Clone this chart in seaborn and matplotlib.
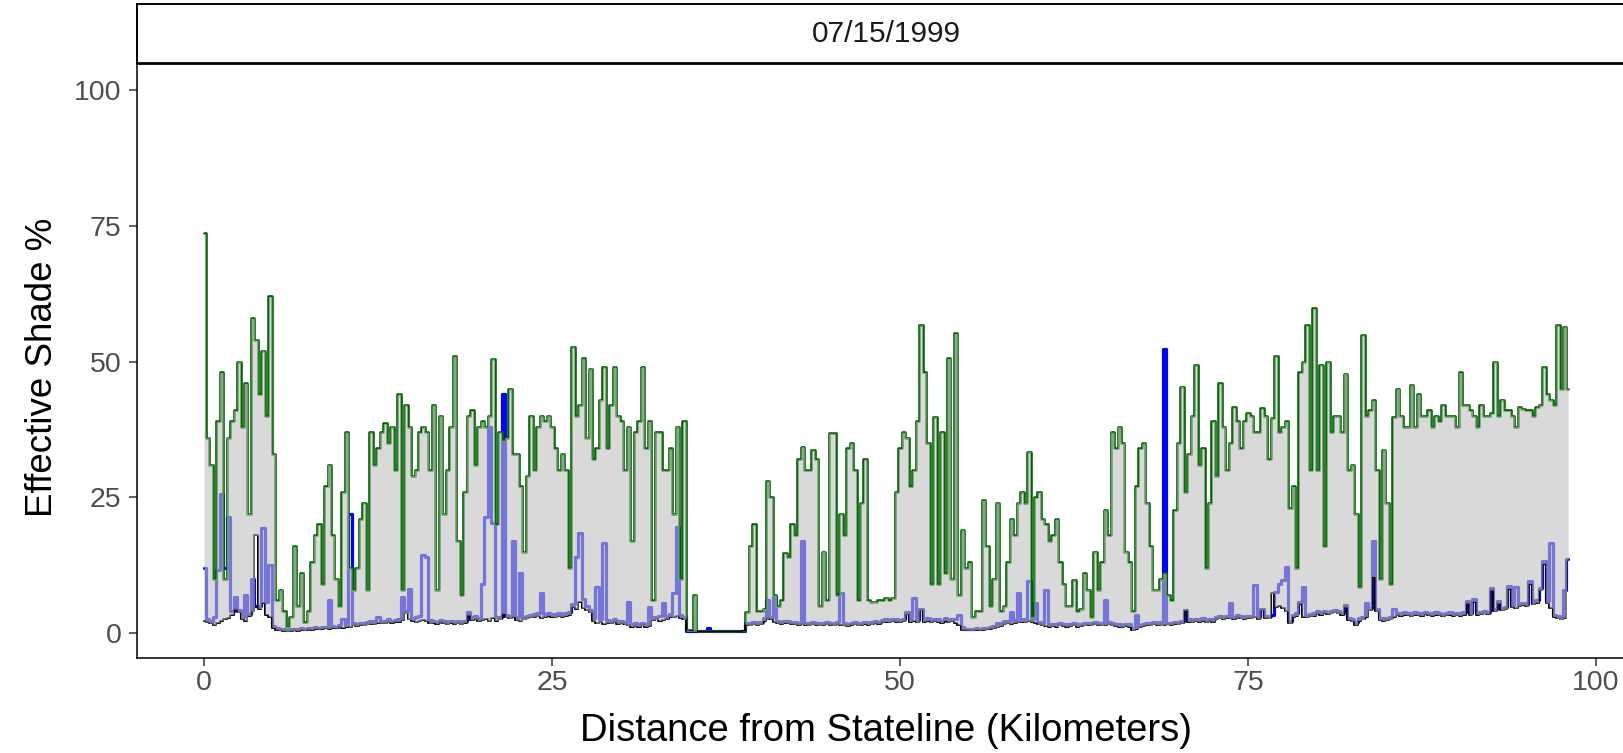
import numpy as np
import pandas as pd
import matplotlib
matplotlib.use("Agg")
import matplotlib.pyplot as plt
import seaborn as sns

# distancia ao longo do rio, a cada 250 m
distance_km = np.round(np.arange(0, 98.01, 0.25), 2)

# sombra total (linha verde, topo da faixa)
total_shade = [
    73.6, 36, 31, 10, 39, 48, 10, 36, 39, 41, 50, 38, 46, 22, 58, 54, 44, 52, 40, 62,
    33, 6, 8, 4, 1.2, 3, 16, 5, 11, 2, 4, 13, 18, 20, 9, 27, 31, 18, 10, 5,
    26, 37, 12, 8, 12, 21, 24, 8, 37, 31, 34, 37, 38.6, 35, 38, 30, 44, 8, 42, 38,
    29, 30, 37, 38, 37, 30, 42, 8, 40, 22, 30, 38, 51, 17, 7, 26, 40, 41, 31, 38,
    39, 38, 40, 50.5, 20, 37, 35.5, 36, 45, 33, 33, 27, 15, 29, 40, 30, 38, 40, 39, 40,
    38, 34, 30, 33, 30, 12, 52.7, 40, 42, 50.6, 36, 48.7, 32, 34, 43, 49, 34, 42, 49, 40,
    39, 30, 38, 17, 37, 39, 49, 34, 39, 6, 37, 37, 30, 30, 34, 22, 38, 10, 39, 0.6,
    0.5, 7, 0.3, 0.3, 0.3, 0.3, 0.3, 0.3, 0.3, 0.3, 0.3, 0.3, 0.3, 0.3, 0.3, 0.4, 3.9, 16, 20, 4,
    4, 4.5, 28, 25, 7, 5, 6, 14.7, 14, 20, 18, 32, 34.3, 30, 30, 33.7, 32, 5, 15, 6,
    36.8, 36.8, 7, 22, 18, 34, 35, 30, 6, 24, 32, 6, 5.8, 5.8, 6, 6, 6.5, 6, 6.5, 26,
    34, 37, 36, 27, 30, 39, 56.7, 48, 35, 9, 39.8, 9, 37, 11, 50.6, 10, 55.2, 7, 19, 12,
    13, 3, 4, 4, 24.5, 16, 5, 10, 24, 4, 5, 13, 21, 18, 24, 26, 24, 33.4, 3, 25,
    26, 21, 20, 17, 18, 21, 13, 9, 5, 5, 9.8, 4, 4.5, 11, 8, 3, 15, 8, 13, 22.7,
    18, 37, 34, 38, 35, 15, 13, 4, 27, 34, 35, 24, 16, 8, 8, 10, 11, 7, 6, 22.6,
    35, 45.4, 26, 33, 40, 49.4, 31, 34, 12, 24, 39, 29, 46, 38, 30, 35, 41.6, 39, 34, 39,
    40.5, 40, 37, 37, 41.4, 40, 32, 39.6, 51, 37, 38, 39, 23, 27, 12, 48, 50, 56.7, 30, 59.8,
    30, 49.4, 16, 50, 37, 40, 40, 37, 47.8, 30, 31, 22, 8.5, 54.9, 40, 41, 42.9, 30, 10, 33.8,
    24, 9, 39.8, 45, 40, 38, 38, 45.7, 38, 44, 40, 40, 41, 38, 40, 39, 42, 40, 40, 40,
    38, 48, 42, 42, 41, 40, 38, 42, 40, 40, 40.5, 50, 40, 43, 41, 41, 40, 38, 41.6, 41.3,
    41, 41, 40, 41.6, 42, 49, 44, 43, 42, 56.7, 45, 56.4, 45,
]

# sombra da margem (linha azul)
bank_shade = [
    11.9, 2.5, 2.2, 3.0, 11.6, 25.7, 12, 21.4, 4.0, 6.7, 4.2, 3.0, 7.0, 3.5, 10.0, 5.0, 5.0, 19.3, 5.8, 12.5,
    1.3, 0.9, 0.8, 0.7, 0.6, 0.7, 0.8, 0.7, 0.9, 0.8, 1.0, 0.9, 1.1, 1.0, 1.1, 1.2, 6.0, 1.3, 1.2, 1.4,
    2.6, 1.5, 22, 1.8, 1.7, 1.9, 1.8, 2.0, 2.3, 2.0, 3.0, 2.2, 2.3, 2.5, 2.3, 2.4, 2.6, 6.7, 4.0, 8.2,
    2.8, 3.0, 3.1, 14.4, 14, 2.4, 2.3, 2.1, 2.4, 2.2, 2.0, 2.3, 2.1, 2.2, 2.0, 2.3, 3.8, 2.9, 3.1, 2.7,
    9.1, 21.4, 38, 20.2, 3.0, 3.0, 44, 3.4, 3.2, 17, 2.9, 11, 3.0, 3.2, 3.4, 3.5, 3.6, 7.3, 3.5, 3.7,
    3.5, 3.4, 3.6, 3.5, 3.7, 3.9, 5.3, 14, 18.4, 6.3, 5.0, 4.3, 2.7, 8.5, 2.5, 16.5, 2.4, 2.3, 2.5, 2.2,
    2.3, 2.1, 5.8, 1.7, 1.8, 1.7, 1.9, 1.7, 4.8, 2.9, 3.0, 3.1, 5.5, 3.1, 3.5, 7.4, 19.6, 3.4, 3.0, 0.4,
    0.4, 0.3, 0.3, 0.3, 0.3, 0.9, 0.3, 0.3, 0.3, 0.3, 0.3, 0.3, 0.3, 0.3, 0.3, 0.4, 1.9, 1.8, 2.0, 1.9,
    2.0, 2.7, 6.0, 3.0, 6.7, 2.2, 2.1, 2.3, 2.2, 2.1, 2.0, 1.9, 17, 1.9, 1.8, 2.0, 1.9, 1.8, 1.9, 2.0,
    1.9, 1.8, 2.0, 7.3, 1.8, 1.7, 1.9, 2.0, 1.8, 1.9, 2.1, 1.9, 2.0, 2.2, 2.1, 2.4, 2.5, 2.4, 2.6, 2.5,
    2.4, 2.6, 3.9, 2.5, 6.4, 2.4, 4.5, 2.5, 2.7, 2.4, 2.6, 2.5, 2.3, 2.7, 2.4, 2.6, 2.6, 3.3, 1.2, 0.8,
    0.8, 0.8, 0.9, 0.8, 0.9, 1.0, 1.1, 1.3, 1.8, 1.9, 2.2, 2.3, 3.9, 2.4, 7.3, 2.6, 2.5, 9.5, 2.6, 5.5,
    2.1, 1.8, 7.9, 1.6, 1.7, 1.6, 1.8, 1.7, 1.6, 1.7, 1.8, 1.6, 1.7, 1.8, 1.9, 1.8, 2.0, 1.9, 1.8, 6.0,
    2.0, 1.8, 1.7, 1.6, 1.5, 1.7, 1.6, 1.0, 3.3, 1.5, 1.7, 1.9, 1.8, 2.0, 1.9, 2.0, 52.4, 1.9, 1.9, 2.1,
    2.0, 2.2, 4.3, 2.5, 2.4, 2.6, 2.5, 2.7, 2.4, 2.6, 2.5, 2.9, 3.1, 3.0, 3.2, 5.5, 3.0, 3.3, 3.1, 3.0,
    3.2, 3.1, 8.8, 3.0, 4.5, 3.2, 3.1, 3.3, 7.5, 9.1, 9.8, 12.2, 2.2, 3.4, 3.6, 5.8, 8.5, 3.3, 3.5, 3.6,
    4.0, 3.8, 4.1, 3.9, 4.0, 4.2, 4.0, 3.7, 5.2, 2.8, 2.6, 2.0, 2.8, 3.0, 5.5, 4.6, 17, 4.4, 2.8, 2.7,
    2.8, 2.9, 4.5, 3.7, 3.6, 3.8, 3.7, 3.5, 3.8, 3.7, 3.6, 3.9, 3.7, 3.6, 3.8, 3.7, 3.5, 3.7, 3.8, 3.6,
    3.7, 3.6, 3.8, 5.9, 3.7, 6.2, 3.8, 3.9, 4.0, 3.9, 8.3, 4.4, 5.9, 4.6, 4.8, 8.6, 5.2, 8.5, 5.4, 5.6,
    5.4, 9.5, 5.7, 6.0, 8.3, 13.2, 5.9, 16.5, 3.4, 3.1, 2.9, 7.9, 13.7,
]

# sombra topografica (linha preta, base da faixa)
topo_shade = [
    2.2, 2.0, 1.8, 1.5, 1.9, 2.3, 2.6, 2.8, 3.4, 4.4, 3.8, 2.6, 2.3, 3.2, 4.0, 18, 4.5, 5.6, 3.4, 3.0,
    1.0, 0.6, 0.5, 0.4, 0.3, 0.4, 0.5, 0.4, 0.6, 0.5, 0.7, 0.6, 0.8, 0.7, 0.8, 0.9, 0.8, 1.0, 0.9, 1.1,
    1.0, 1.2, 1.1, 1.4, 1.3, 1.5, 1.4, 1.6, 1.7, 1.6, 1.9, 1.8, 1.8, 2.0, 1.9, 2.1, 2.1, 2.4, 3.6, 2.5,
    2.3, 2.0, 2.2, 2.4, 2.2, 1.8, 1.9, 1.7, 2.0, 1.8, 1.6, 1.9, 1.7, 1.8, 1.6, 1.9, 3.3, 2.4, 2.6, 2.2,
    2.4, 2.6, 2.2, 2.8, 2.3, 2.5, 3.6, 2.9, 2.7, 3.0, 2.4, 2.2, 2.5, 2.7, 2.9, 3.0, 3.1, 2.8, 3.0, 3.2,
    3.0, 2.9, 3.1, 3.0, 3.2, 3.4, 4.8, 4.5, 5.8, 4.6, 4.2, 3.8, 2.2, 1.8, 2.0, 1.7, 1.9, 1.8, 2.0, 1.7,
    1.8, 1.6, 1.4, 1.2, 1.3, 1.2, 1.4, 1.2, 1.3, 2.4, 2.5, 2.3, 2.4, 2.6, 3.0, 2.9, 3.1, 2.8, 2.5, 0.3,
    0.3, 0.3, 0.2, 0.2, 0.2, 0.2, 0.2, 0.2, 0.2, 0.2, 0.2, 0.2, 0.2, 0.2, 0.2, 0.3, 1.5, 1.4, 1.6, 1.5,
    1.6, 2.3, 2.7, 2.6, 2.0, 1.8, 1.7, 1.9, 1.8, 1.7, 1.6, 1.5, 1.6, 1.5, 1.4, 1.6, 1.5, 1.4, 1.5, 1.6,
    1.5, 1.4, 1.6, 1.5, 1.4, 1.3, 1.5, 1.6, 1.4, 1.5, 1.7, 1.5, 1.6, 1.8, 1.7, 2.0, 2.1, 2.0, 2.2, 2.1,
    2.0, 2.2, 3.5, 2.1, 2.3, 2.0, 4.2, 2.1, 2.3, 2.0, 2.2, 2.1, 1.9, 2.3, 2.0, 2.2, 1.9, 1.5, 0.6, 0.55,
    0.5, 0.5, 0.6, 0.5, 0.6, 0.7, 0.8, 0.9, 1.1, 1.3, 1.6, 1.8, 1.7, 1.9, 2.0, 2.1, 2.0, 2.2, 2.1, 1.9,
    1.6, 1.4, 1.3, 1.2, 1.3, 1.2, 1.4, 1.3, 1.2, 1.3, 1.4, 1.2, 1.3, 1.4, 1.5, 1.4, 1.6, 1.5, 1.4, 1.5,
    1.6, 1.4, 1.3, 1.2, 1.1, 1.3, 1.2, 0.5, 0.8, 1.1, 1.3, 1.5, 1.4, 1.6, 1.5, 1.4, 1.5, 1.6, 1.5, 1.7,
    1.6, 1.8, 4.2, 2.1, 2.0, 2.2, 2.1, 2.3, 2.0, 2.2, 2.1, 2.5, 2.7, 2.6, 2.8, 2.7, 2.6, 2.9, 2.7, 2.6,
    2.8, 2.7, 2.9, 2.6, 4.2, 2.8, 2.7, 7.3, 4.8, 5.0, 4.6, 4.0, 1.8, 3.0, 3.2, 5.4, 3.0, 2.9, 3.1, 3.2,
    3.6, 3.4, 3.7, 3.5, 3.6, 3.8, 3.6, 3.4, 4.8, 2.4, 2.2, 1.5, 2.3, 2.5, 3.0, 4.2, 10.4, 4.0, 2.4, 2.3,
    2.4, 2.5, 3.0, 3.3, 3.2, 3.4, 3.3, 3.1, 3.4, 3.3, 3.2, 3.5, 3.3, 3.2, 3.4, 3.3, 3.1, 3.3, 3.4, 3.2,
    3.3, 3.2, 3.4, 5.5, 3.3, 5.8, 3.4, 3.5, 3.6, 3.5, 7.9, 4.0, 5.5, 4.2, 4.4, 8.2, 4.8, 4.6, 5.0, 5.2,
    5.0, 9.1, 5.3, 5.6, 7.9, 12.8, 5.5, 4.6, 3.0, 2.7, 2.5, 2.8, 13.4,
]

assert len(total_shade) == len(bank_shade) == len(topo_shade) == len(distance_km)

df = pd.DataFrame({
    "km": distance_km,
    "total": total_shade,
    "bank": bank_shade,
    "topo": topo_shade,
})

sns.set_theme(style="white")
plt.rcParams["font.family"] = ["Liberation Sans", "DejaVu Sans"]

W, H = 1623, 753
fig = plt.figure(figsize=(W / 100, H / 100), dpi=100)
ax = fig.add_axes([137 / W, (H - 658) / H, 1499 / W, 595 / H])

# linhas primeiro, a faixa cinza semitransparente por cima
sns.lineplot(data=df, x="km", y="bank", color="#0000ff", linewidth=2.3,
             estimator=None, drawstyle="steps-mid", ax=ax, zorder=2)
sns.lineplot(data=df, x="km", y="total", color="#006400", linewidth=1.9,
             estimator=None, drawstyle="steps-mid", ax=ax, zorder=3)
sns.lineplot(data=df, x="km", y="topo", color="black", linewidth=1.4,
             estimator=None, drawstyle="steps-mid", ax=ax, zorder=4)
ax.fill_between(df["km"], df["topo"], df["total"], step="mid",
                color=(0.757, 0.757, 0.757), alpha=0.61, linewidth=0, zorder=5)

ax.set_xlim(-4.81, 102.87)
ax.set_ylim(-4.6, 105.0)
ax.set_xticks([0, 25, 50, 75, 100])
ax.set_yticks([0, 25, 50, 75, 100])
ax.tick_params(axis="both", which="major", labelsize=20.5, labelcolor="#4d4d4d",
               color="#333333", length=6, width=1.1, bottom=True, left=True)
ax.tick_params(axis="x", pad=3)
ax.tick_params(axis="y", pad=5)

for side in ["top", "right"]:
    ax.spines[side].set_visible(False)
for side in ["left", "bottom"]:
    ax.spines[side].set_color("black")
    ax.spines[side].set_linewidth(1.1)

ax.set_xlabel("Distance from Stateline (Kilometers)", fontsize=27.5, color="black")
ax.set_ylabel("Effective Shade %", fontsize=26.5, color="black")
ax.xaxis.set_label_coords(0.4997, -0.092)
ax.yaxis.set_label_coords(-0.0514, 0.489)

# faixa do titulo (estilo facet)
sax = fig.add_axes([137 / W, (H - 63) / H, 1499 / W, 59 / H])
sax.set_xticks([])
sax.set_yticks([])
sax.set_facecolor("white")
for s in sax.spines.values():
    s.set_color("black")
    s.set_linewidth(1.4)
sax.spines["bottom"].set_linewidth(2.0)
sax.text(0.4997, 0.5, "07/15/1999", ha="center", va="center", fontsize=21.5,
         color="#1a1a1a", transform=sax.transAxes)

fig.savefig("out.png", dpi=100)
